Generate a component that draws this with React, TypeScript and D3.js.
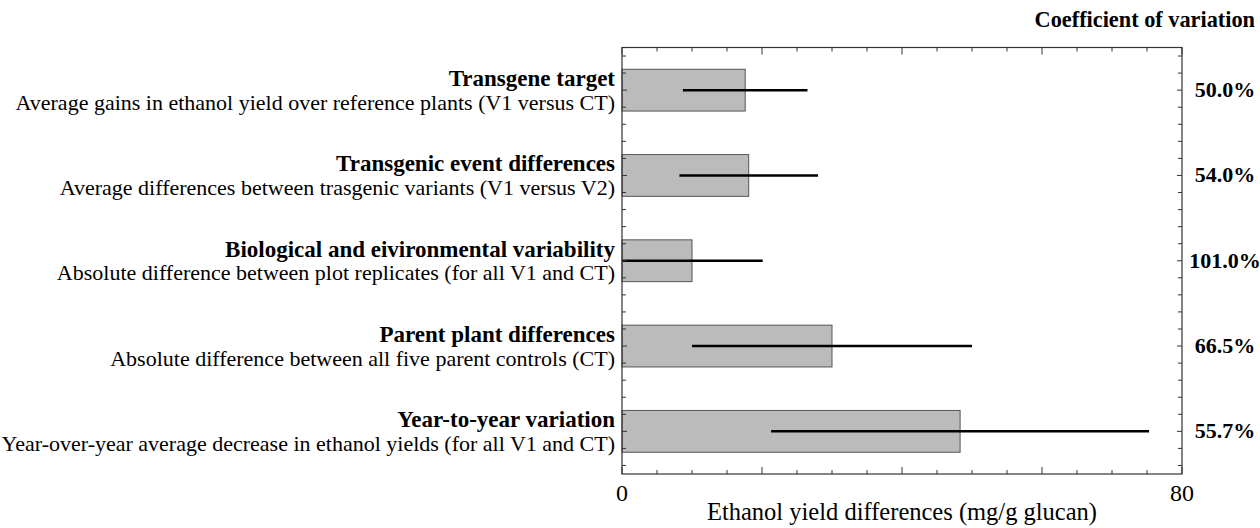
import React from "react";
import * as d3 from "d3";

const categories = [
  "Transgene target",
  "Transgenic event differences",
  "Biological and eivironmental variability",
  "Parent plant differences",
  "Year-to-year variation",
];
const subtitles = [
  "Average gains in ethanol yield over reference plants (V1 versus CT)",
  "Average differences between trasgenic variants (V1 versus V2)",
  "Absolute difference between plot replicates (for all V1 and CT)",
  "Absolute difference between all five parent controls (CT)",
  "Year-over-year average decrease in ethanol yields (for all V1 and CT)",
];
const means = [17.6, 18.1, 10.0, 30.0, 48.3];
const errors = [8.9, 9.9, 10.1, 20.0, 27.0];
const cvLabels = ["50.0%", "54.0%", "101.0%", "66.5%", "55.7%"];
const xDomain = [0, 80];
const xTickLabels = [0, 80];

const W = 1260;
const H = 528;
const FONT = "'Liberation Serif', 'Times New Roman', serif";

export default function App() {
  const left = 622;
  const right = 1182;
  const top = 47.5;
  const bottom = 474;
  const x = d3.scaleLinear().domain(xDomain).range([left, right]);
  const y = d3.scaleBand<string>().domain(categories).range([top, bottom]).padding(0);
  const bw = y.bandwidth();
  const barH = bw * 0.49;

  const minorX = d3.range(xDomain[0], xDomain[1] + 0.001, 5);
  const yTicks = d3.range(categories.length * 5).map((j) => top + (j + 0.5) * (bw / 5));
  const axisColor = "#333";

  return (
    <svg
      width={W}
      height={H}
      style={{ position: "absolute", left: 0, top: 0, background: "#fff" }}
      fontFamily={FONT}
    >
      {/* bars */}
      {categories.map((c, i) => {
        const cy = (y(c) as number) + bw / 2;
        return (
          <g key={c}>
            <rect
              x={x(0)}
              y={cy - barH / 2}
              width={x(means[i]) - x(0)}
              height={barH}
              fill="#bbbbbb"
              stroke="#555"
              strokeWidth={1}
            />
            <line
              x1={x(Math.max(0, means[i] - errors[i]))}
              x2={x(means[i] + errors[i])}
              y1={cy}
              y2={cy}
              stroke="#000"
              strokeWidth={2.5}
            />
            <text
              x={615}
              y={cy - 4}
              textAnchor="end"
              fontWeight="bold"
              fontSize={23}
              fill="#000"
            >
              {c}
            </text>
            <text x={615} y={cy + 19.5} textAnchor="end" fontSize={22} fill="#000">
              {subtitles[i]}
            </text>
            <text
              x={1225}
              y={cy + 7}
              textAnchor="middle"
              fontWeight="bold"
              fontSize={22}
              fill="#000"
            >
              {cvLabels[i]}
            </text>
          </g>
        );
      })}

      {/* frame */}
      <rect x={left} y={top} width={right - left} height={bottom - top} fill="none" stroke={axisColor} strokeWidth={1.2} />

      {/* x ticks top & bottom */}
      {minorX.map((v) => {
        const major = v % 20 === 0;
        const len = major ? 7 : 4;
        return (
          <g key={"xt" + v}>
            <line x1={x(v)} x2={x(v)} y1={bottom} y2={bottom - len} stroke={axisColor} strokeWidth={1} />
            <line x1={x(v)} x2={x(v)} y1={top} y2={top + len} stroke={axisColor} strokeWidth={1} />
          </g>
        );
      })}

      {/* y ticks left & right */}
      {yTicks.map((ty, j) => {
        const major = j % 5 === 2;
        const len = major ? 5 : 4;
        return (
          <g key={"yt" + j}>
            <line x1={left} x2={left + len} y1={ty} y2={ty} stroke={axisColor} strokeWidth={1} />
            <line x1={right} x2={right - len} y1={ty} y2={ty} stroke={axisColor} strokeWidth={1} />
          </g>
        );
      })}

      {/* x tick labels */}
      {xTickLabels.map((v) => (
        <text key={"xl" + v} x={x(v)} y={501} textAnchor="middle" fontSize={24} fill="#000">
          {v}
        </text>
      ))}

      <text x={(left + right) / 2} y={520} textAnchor="middle" fontSize={24.5} fill="#000">
        Ethanol yield differences (mg/g glucan)
      </text>

      <text x={1255} y={27} textAnchor="end" fontWeight="bold" fontSize={22.3} fill="#000">
        Coefficient of variation
      </text>
    </svg>
  );
}
